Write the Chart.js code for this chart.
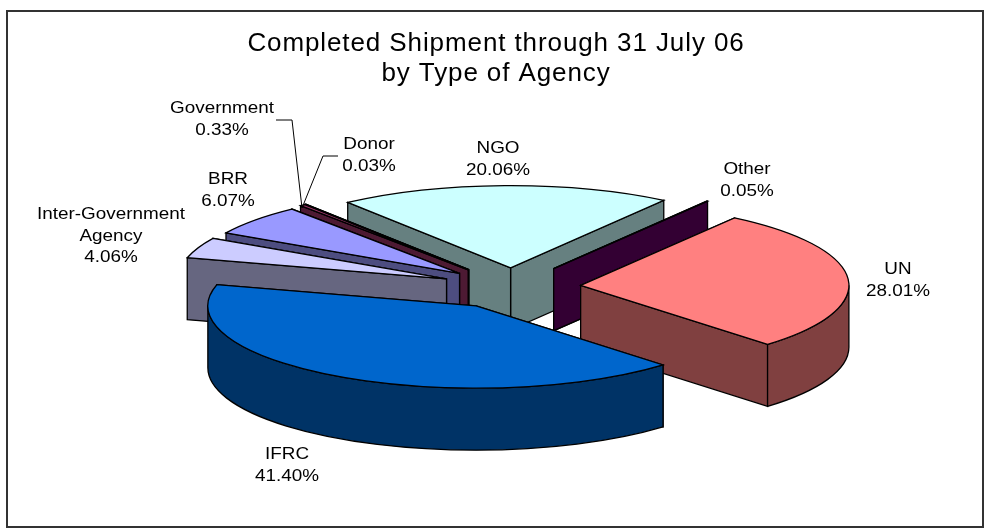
<!DOCTYPE html>
<html>
<head>
<meta charset="utf-8">
<title>Completed Shipment by Type of Agency</title>
<script src="https://cdn.jsdelivr.net/npm/chart.js@4"></script>
<style>
  body { margin: 0; background: #fff; }
  canvas { display: block; }
</style>
</head>
<body>
<canvas id="shipmentChart" width="985" height="529"></canvas>
<script>
const titleLines = ['Completed Shipment through 31 July 06', 'by Type of Agency'];
const categories = ['UN', 'IFRC', 'Inter-Government Agency', 'BRR', 'Government', 'Donor', 'NGO', 'Other'];
const shares = [28.01, 41.40, 4.06, 6.07, 0.33, 0.03, 20.06, 0.05];

const topColors = ['#FF8080', '#0066CC', '#CCCCFF', '#9999FF', '#993366', '#000040', '#CCFFFF', '#660066'];
const wallColors = ['#804040', '#003366', '#666680', '#4D4D80', '#4D1A33', '#000020', '#668080', '#330033'];
const explode = [190, 196, 195, 190, 196, 196, 172, 201];
const wallOrder = [6, 7, 5, 4, 3, 2, 0, 1]; // back to front

// label text lines and where they sit on the page
const labelLines = [['UN'], ['IFRC'], ['Inter-Government', 'Agency'], ['BRR'], ['Government'], ['Donor'], ['NGO'], ['Other']];
const labelPos = [[898, 270], [287, 455], [111, 215], [228, 180], [222, 109], [369, 145], [498, 149], [747, 170]];
const leaders = [
  [[276, 120], [292, 120], [302, 208]],
  [[338, 156], [323, 156], [302, 208]]
];

const pieCenter = { x: 512, y: 287 };
const pieRadius = 185;
const kx = 1.45, ky = 0.445;
const depth = 62;
const fontName = '"Liberation Sans", Arial, sans-serif';
const textStretch = 1.18; // the original text is wider than Arial

function sliceShape(arc) {
  const off = arc.options.offset / 4;
  const mid = (arc.startAngle + arc.endAngle) / 2;
  return {
    cx: pieCenter.x + Math.cos(mid) * off * kx,
    cy: pieCenter.y + Math.sin(mid) * off * ky,
    rx: pieRadius * kx,
    ry: pieRadius * ky,
    a0: arc.startAngle,
    a1: arc.endAngle
  };
}

function rimPoint(s, a) {
  return [s.cx + Math.cos(a) * s.rx, s.cy + Math.sin(a) * s.ry];
}

function drawQuad(ctx, p, q, fill) {
  ctx.beginPath();
  ctx.moveTo(p[0], p[1]);
  ctx.lineTo(q[0], q[1]);
  ctx.lineTo(q[0], q[1] + depth);
  ctx.lineTo(p[0], p[1] + depth);
  ctx.closePath();
  ctx.fillStyle = fill;
  ctx.fill();
  ctx.stroke();
}

function drawWalls(ctx, s, fill) {
  const tip = [s.cx, s.cy];
  // upper edge first so the nearer wall covers it
  const edges = [rimPoint(s, s.a0), rimPoint(s, s.a1)].sort((a, b) => a[1] - b[1]);
  edges.forEach(p => drawQuad(ctx, tip, p, fill));

  // outer rim, only the part facing the viewer
  const from = Math.max(s.a0, 0);
  const to = Math.min(s.a1, Math.PI);
  if (to > from) {
    ctx.beginPath();
    ctx.ellipse(s.cx, s.cy, s.rx, s.ry, 0, from, to);
    ctx.ellipse(s.cx, s.cy + depth, s.rx, s.ry, 0, to, from, true);
    ctx.closePath();
    ctx.fillStyle = fill;
    ctx.fill();
    ctx.stroke();
  }
}

const pie3d = {
  id: 'pie3d',
  beforeDraw(chart) {
    const ctx = chart.ctx;
    ctx.save();
    ctx.strokeStyle = '#333';
    ctx.lineWidth = 2;
    ctx.strokeRect(7, 11, 976, 516);
    ctx.restore();
    ctx.letterSpacing = '0.9px'; // for the title
  },
  afterDatasetsUpdate(chart) {
    // keep every slice the same radius, the library grows exploded ones
    chart.getDatasetMeta(0).data.forEach(arc => {
      const off = arc.options.offset / 4;
      const fix = 1 - Math.sin(Math.min(Math.PI, arc.circumference));
      arc.outerRadius = pieRadius - off * fix;
    });
  },
  beforeDatasetsDraw(chart) {
    const ctx = chart.ctx;
    const arcs = chart.getDatasetMeta(0).data;
    ctx.letterSpacing = '0px';
    ctx.save();
    ctx.strokeStyle = '#000';
    ctx.lineWidth = 1.3;
    wallOrder.forEach(i => drawWalls(ctx, sliceShape(arcs[i]), wallColors[i]));
    ctx.restore();

    // the library draws the slice tops squashed into an ellipse
    ctx.save();
    ctx.translate(pieCenter.x - arcs[0].x * kx, pieCenter.y - arcs[0].y * ky);
    ctx.scale(kx, ky);
  },
  afterDatasetsDraw(chart) {
    const ctx = chart.ctx;
    ctx.restore();
    const arcs = chart.getDatasetMeta(0).data;

    ctx.save();
    ctx.strokeStyle = '#000';
    ctx.lineWidth = 1.3;
    arcs.forEach(arc => {
      const s = sliceShape(arc);
      ctx.beginPath();
      ctx.moveTo(s.cx, s.cy);
      ctx.ellipse(s.cx, s.cy, s.rx, s.ry, 0, s.a0, s.a1);
      ctx.closePath();
      // fill again so no sliver is left between the fill and the outline
      ctx.fillStyle = arc.options.backgroundColor;
      ctx.fill();
      ctx.stroke();
    });

    ctx.lineWidth = 1;
    leaders.forEach(line => {
      ctx.beginPath();
      line.forEach((p, i) => i ? ctx.lineTo(p[0], p[1]) : ctx.moveTo(p[0], p[1]));
      ctx.stroke();
    });

    ctx.fillStyle = '#000';
    ctx.font = '16px ' + fontName;
    ctx.textAlign = 'center';
    ctx.textBaseline = 'middle';
    categories.forEach((name, i) => {
      const lines = labelLines[i].concat(shares[i].toFixed(2) + '%');
      lines.forEach((text, k) => {
        ctx.save();
        ctx.translate(labelPos[i][0], labelPos[i][1] + k * 21.5);
        ctx.scale(textStretch, 1);
        ctx.fillText(text, 0, 0);
        ctx.restore();
      });
    });
    ctx.restore();
  }
};

new Chart(document.getElementById('shipmentChart'), {
  type: 'pie',
  plugins: [pie3d],
  data: {
    labels: categories,
    datasets: [{
      data: shares,
      backgroundColor: topColors,
      offset: explode,
      borderWidth: 0,
      clip: false
    }]
  },
  options: {
    responsive: false,
    animation: false,
    rotation: 35,
    radius: pieRadius,
    layout: { padding: { left: 7 } },
    plugins: {
      legend: { display: false },
      tooltip: { enabled: false },
      title: {
        display: true,
        text: titleLines,
        color: '#000',
        font: { family: fontName, size: 26, weight: 'normal', lineHeight: 1.15 },
        padding: { top: 29, bottom: 0 }
      }
    }
  }
});
</script>
</body>
</html>
